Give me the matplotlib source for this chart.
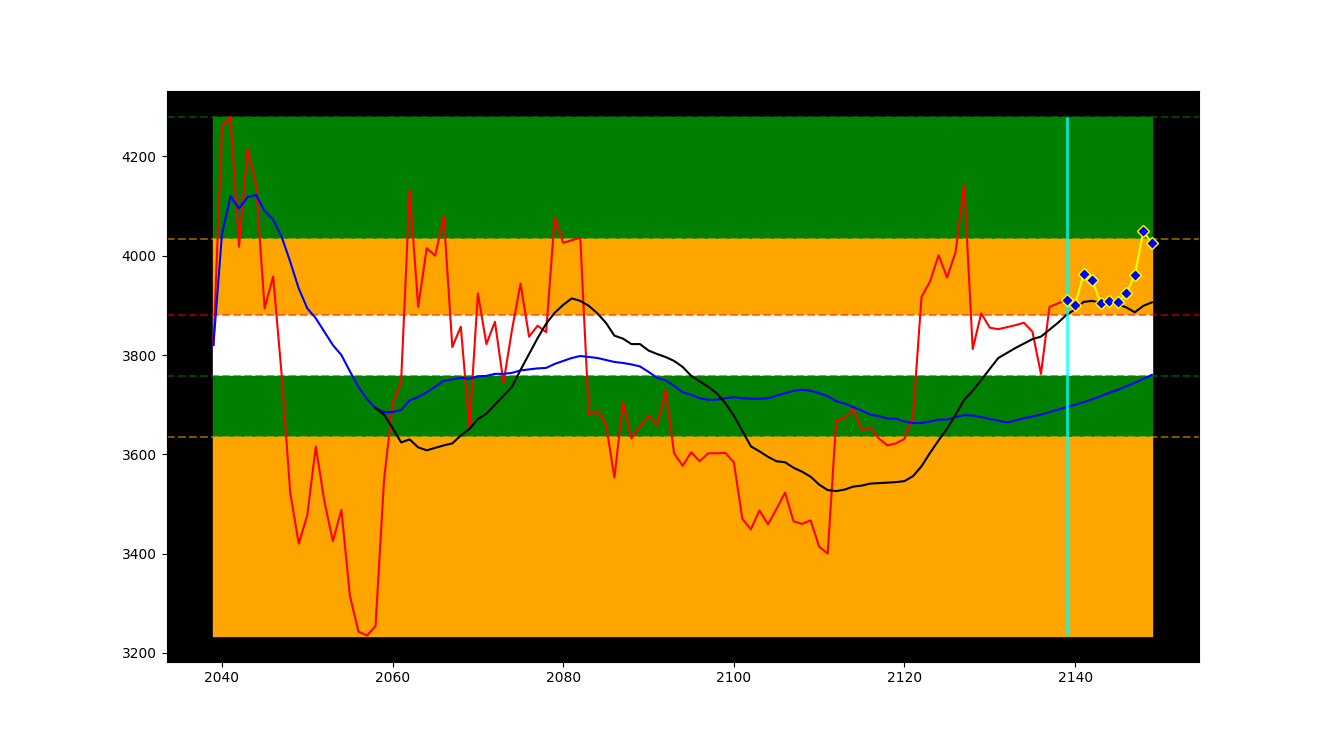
import numpy as np
import matplotlib
matplotlib.use("Agg")
import matplotlib.pyplot as plt

# ---- data ----
red_x = list(range(2039, 2140))
red_y = [3820, 4260, 4280, 4018, 4215, 4142, 3894, 3958, 3760, 3523,
         3420, 3477, 3616, 3506, 3425, 3488, 3315, 3243, 3235, 3254,
         3549, 3700, 3747, 4132, 3897, 4015, 4000, 4080, 3816, 3857,
         3653, 3924, 3822, 3867, 3744, 3851, 3944, 3837, 3859, 3846,
         4077, 4026, 4031, 4036, 3680, 3687, 3662, 3553, 3705, 3632,
         3656, 3678, 3658, 3729, 3602, 3577, 3604, 3586, 3602, 3602,
         3603, 3584, 3470, 3449, 3487, 3459, 3490, 3523, 3465, 3460,
         3467, 3414, 3400, 3668, 3673, 3691, 3648, 3654, 3632, 3618,
         3622, 3631, 3676, 3917, 3948, 4001, 3956, 4008, 4143, 3812,
         3884, 3855, 3852, 3856, 3860, 3865, 3847, 3762, 3897, 3904,
         3911]

yellow_x = list(range(2139, 2150))
yellow_y = [3911, 3901, 3963, 3951, 3904, 3909, 3906, 3924, 3961, 4049, 4025]

blue_x = list(range(2039, 2150))
blue_y = [3820, 4043, 4120, 4095, 4118, 4122, 4090, 4073, 4038, 3988,
          3934, 3894, 3874, 3847, 3820, 3800, 3767, 3736, 3711, 3693,
          3685, 3685, 3689, 3709, 3715, 3725, 3736, 3748, 3751, 3754,
          3752, 3757, 3758, 3762, 3762, 3764, 3769, 3771, 3773, 3774,
          3782, 3788, 3794, 3798, 3796, 3794, 3790, 3786, 3784, 3781,
          3777, 3766, 3754, 3749, 3738, 3725, 3720, 3713, 3710, 3710,
          3713, 3715, 3713, 3712, 3712, 3713, 3718, 3723, 3728, 3730,
          3728, 3723, 3717, 3707, 3702, 3695, 3688, 3680, 3677, 3672,
          3672, 3666, 3663, 3663, 3666, 3670, 3670, 3675, 3679, 3678,
          3675, 3671, 3668, 3664, 3668, 3673, 3676, 3680, 3685, 3690,
          3695, 3700, 3705, 3711, 3717, 3724, 3730, 3737, 3744, 3752,
          3760]

black_x = list(range(2058, 2150))
black_y = [3693, 3680, 3653, 3624, 3630, 3614, 3608, 3613, 3618, 3622,
           3638, 3651, 3671, 3682, 3700, 3718, 3736, 3770, 3802, 3834,
           3863, 3885, 3901, 3914, 3909, 3899, 3884, 3865, 3839, 3833,
           3822, 3822, 3809, 3802, 3796, 3788, 3776, 3758, 3747, 3736,
           3723, 3703, 3678, 3647, 3616, 3606, 3595, 3586, 3584, 3573,
           3565, 3555, 3539, 3528, 3526, 3529, 3535, 3537, 3541, 3542,
           3543, 3544, 3546, 3556, 3576, 3603, 3628, 3652, 3680, 3710,
           3728, 3750, 3772, 3794, 3804, 3814, 3823, 3832, 3837, 3851,
           3865, 3881, 3892, 3907, 3909, 3905, 3904, 3902, 3896, 3886,
           3899, 3906]

fib_ratios = [0.0, 0.236, 0.382, 0.5, 0.618, 1.0]
band_colors = ["green", "orange", "white", "green", "orange"]
line_colors = ["green", "orange", "red", "green", "orange"]
marker_x = 2139

# ---- figure ----
fig = plt.figure(figsize=(13.32, 7.56), dpi=100)
ax = fig.add_subplot(111)
fig.subplots_adjust(left=0.125, right=0.9, top=0.88, bottom=0.125)
ax.set_facecolor("black")

high = max(red_y)
low = min(red_y)
levels = [high - r * (high - low) for r in fib_ratios]

band_x = [blue_x[0], blue_x[-1]]
for i, c in enumerate(band_colors):
    ax.fill_between(band_x, levels[i + 1], levels[i], color=c, zorder=1)
for i, c in enumerate(line_colors):
    ax.axhline(levels[i], color=c, linestyle="--", alpha=0.5, zorder=2)

ax.plot(red_x, red_y, color="red", lw=1.5, zorder=3)
ax.plot(blue_x, blue_y, color="blue", lw=1.5, zorder=4)
ax.plot(black_x, black_y, color="black", lw=1.5, zorder=4)
ax.vlines(marker_x, low, high, color="cyan", alpha=0.8, lw=2, zorder=5)
ax.plot(yellow_x, yellow_y, color="yellow", lw=1.5, marker="D",
        markerfacecolor="blue", markeredgecolor="yellow", markersize=6, zorder=6)

ax.set_xticks([2040, 2060, 2080, 2100, 2120, 2140])
ax.set_yticks([3200, 3400, 3600, 3800, 4000, 4200])

fig.savefig("out.png", dpi=100)
